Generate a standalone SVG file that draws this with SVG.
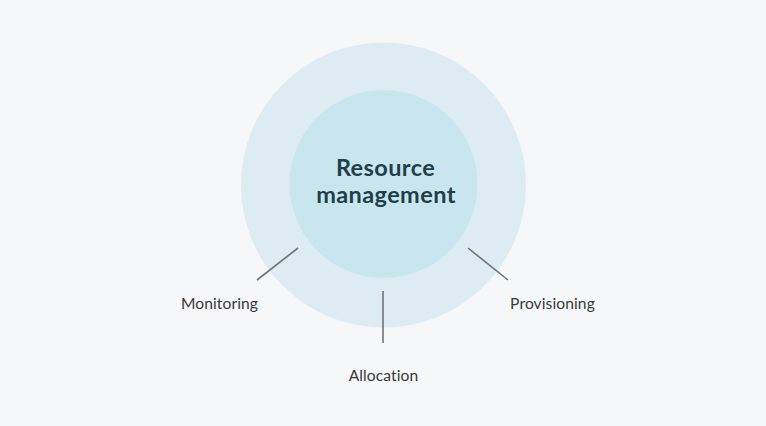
<svg xmlns="http://www.w3.org/2000/svg" width="766" height="426" viewBox="0 0 766 426">
<style>
.lbl{font-family:"Lato","Liberation Sans",sans-serif;font-size:15.6px;fill:#3a3a3a;text-anchor:middle;letter-spacing:0.1px}
.title{font-family:"Lato","Liberation Sans",sans-serif;font-size:23.5px;font-weight:700;fill:#1e3f4c;text-anchor:middle;letter-spacing:0.4px}
.conn{stroke:#6f7478;stroke-width:1.6;fill:none}
</style>
<rect width="766" height="426" fill="#f5f7f9"/>
<g id="outer"><circle cx="383.5" cy="185" r="142.5" fill="#dcecf2"/></g>
<g id="center"><circle cx="383.5" cy="184" r="94" fill="#c9e6ee"/>
<text class="title" x="385.5" y="176">Resource</text>
<text class="title" x="386" y="203">management</text></g>
<g id="connectors">
<line class="conn" x1="298" y1="248" x2="257" y2="280"/>
<line class="conn" x1="383" y1="291" x2="383" y2="343"/>
<line class="conn" x1="468" y1="248" x2="508" y2="280"/>
</g>
<g id="monitoring"><text class="lbl" x="219.5" y="309">Monitoring</text></g>
<g id="allocation"><text class="lbl" x="383.5" y="381">Allocation</text></g>
<g id="provisioning"><text class="lbl" x="552.5" y="309">Provisioning</text></g>
</svg>
